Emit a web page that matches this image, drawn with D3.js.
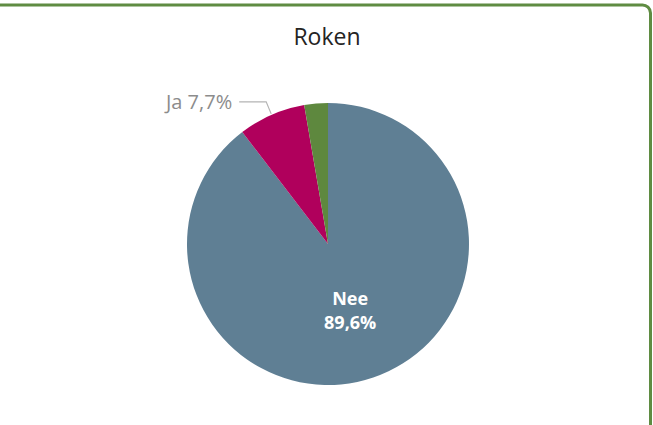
<!DOCTYPE html>
<html>
<head>
<meta charset="utf-8">
<script src="https://cdn.jsdelivr.net/npm/d3@7"></script>
<style>
  body { margin: 0; background: #fff; }
  svg { display: block; }
</style>
</head>
<body>
<script>
const categories = ["Nee", "Ja", "Onbekend"];
const values = [89.6, 7.7, 2.7];
const colors = ["#5F7F94", "#B0005C", "#5E883E"];
const title = "Roken";

const dims = { w: 653, h: 425, cx: 328, cy: 244, r: 141 };

const svg = d3.select("body")
  .append("svg")
  .attr("width", dims.w)
  .attr("height", dims.h);

// card border (only top + right visible)
svg.append("path")
  .attr("d", `M -10 5 H 642 A 8 8 0 0 1 650.5 13 V ${dims.h + 10}`)
  .attr("fill", "none")
  .attr("stroke", "#5F8C42")
  .attr("stroke-width", 3);

svg.append("text")
  .attr("x", 327)
  .attr("y", 45)
  .attr("text-anchor", "middle")
  .attr("font-family", "'Open Sans', sans-serif")
  .attr("font-size", 23)
  .attr("fill", "#252423")
  .text(title);

const data = categories.map((c, i) => ({ name: c, value: values[i], color: colors[i] }));

const pie = d3.pie().sort(null).value(d => d.value);
const arc = d3.arc().innerRadius(0).outerRadius(dims.r);
const arcs = pie(data);

const g = svg.append("g")
  .attr("transform", `translate(${dims.cx}, ${dims.cy})`);

g.selectAll("path")
  .data(arcs)
  .enter()
  .append("path")
  .attr("d", arc)
  .attr("fill", d => d.data.color);

const fmt = v => String(v).replace(".", ",") + "%";

// inside label for biggest slice, two separate lines
const big = arcs[0];
const labelArc = d3.arc().innerRadius(dims.r * 0.49).outerRadius(dims.r * 0.49);
const [lx, ly] = labelArc.centroid(big);
[[big.data.name, ly - 4], [fmt(big.data.value), ly + 20]].forEach(([t, y]) => {
  g.append("text")
    .attr("x", lx)
    .attr("y", y)
    .attr("text-anchor", "middle")
    .attr("font-family", "'Open Sans', sans-serif")
    .attr("font-weight", "bold")
    .attr("font-size", 18)
    .attr("fill", "#fff")
    .text(t);
});

// outside label with leader line for "Ja"
const ja = arcs[1];
const mid = (ja.startAngle + ja.endAngle) / 2;
const p0 = [Math.sin(mid) * (dims.r + 1), -Math.cos(mid) * (dims.r + 1)];
const p1 = [p0[0] - 5, p0[1] - 12];
const p2 = [p1[0] - 27, p1[1]];
g.append("polyline")
  .attr("points", [p0, p1, p2].map(p => p.join(",")).join(" "))
  .attr("fill", "none")
  .attr("stroke", "#b4b4b4")
  .attr("stroke-width", 1.2);
g.append("text")
  .attr("x", p2[0] - 7)
  .attr("y", p2[1] + 7)
  .attr("text-anchor", "end")
  .attr("font-family", "'Open Sans', sans-serif")
  .attr("font-size", 20)
  .attr("fill", "#8c8c8c")
  .text(ja.data.name + " " + fmt(ja.data.value));
</script>
</body>
</html>
